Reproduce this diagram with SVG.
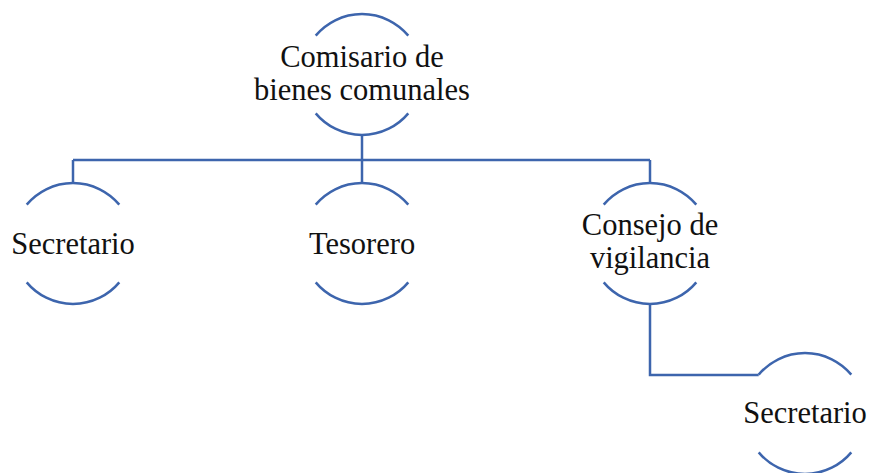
<svg xmlns="http://www.w3.org/2000/svg" xmlns:xlink="http://www.w3.org/1999/xlink" width="870" height="473" viewBox="0 0 870 473">
  <style>
    .ln { fill: none; stroke: #3d65ad; stroke-width: 2.5; }
    .t { font-family: "Liberation Serif", "Times New Roman", serif; font-size: 30.5px; fill: #111; text-anchor: middle; }
  </style>
  <defs>
    <path id="arcs" class="ln" d="M -46.3 -38.9 A 60.5 60.5 0 0 1 46.3 -38.9 M -46.3 38.9 A 60.5 60.5 0 0 0 46.3 38.9"/>
  </defs>
  <rect width="870" height="473" fill="#ffffff"/>
  <g id="connectors" class="ln">
    <path d="M362 135 V160"/>
    <path d="M73 160 H650"/>
    <path d="M73 160 V183"/>
    <path d="M362 160 V183"/>
    <path d="M650 160 V183"/>
    <path d="M650 304 V375 H758.7"/>
  </g>
  <g id="comisario" transform="translate(362 74.5)">
    <use xlink:href="#arcs" href="#arcs"/>
    <text class="t" x="0" y="-7.5">Comisario de</text>
    <text class="t" x="0" y="25.5">bienes comunales</text>
  </g>
  <g id="secretario1" transform="translate(73 243.5)">
    <use xlink:href="#arcs" href="#arcs"/>
    <text class="t" x="0" y="10.5">Secretario</text>
  </g>
  <g id="tesorero" transform="translate(362 243.5)">
    <use xlink:href="#arcs" href="#arcs"/>
    <text class="t" x="0" y="10">Tesorero</text>
  </g>
  <g id="consejo" transform="translate(650 243.5)">
    <use xlink:href="#arcs" href="#arcs"/>
    <text class="t" x="0" y="-8.5">Consejo de</text>
    <text class="t" x="0" y="24.5">vigilancia</text>
  </g>
  <g id="secretario2" transform="translate(805 413.5)">
    <use xlink:href="#arcs" href="#arcs"/>
    <text class="t" x="0" y="9.5">Secretario</text>
  </g>
</svg>
